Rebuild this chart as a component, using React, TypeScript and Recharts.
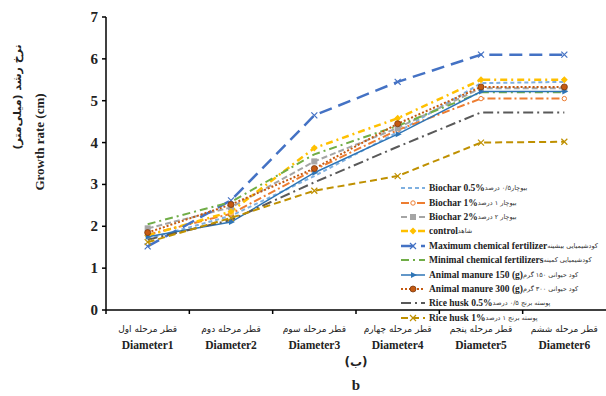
import React from 'react';
import { LineChart, Line, XAxis, YAxis, Legend, Label } from 'recharts';

const categories = ['Diameter1', 'Diameter2', 'Diameter3', 'Diameter4', 'Diameter5', 'Diameter6'];
const categoriesFa = ['قطر مرحله اول', 'قطر مرحله دوم', 'قطر مرحله سوم', 'قطر مرحله چهارم', 'قطر مرحله پنجم', 'قطر مرحله ششم'];
const yTicks = [0, 1, 2, 3, 4, 5, 6, 7];

const biochar05 = [1.7, 2.25, 3.2, 4.25, 5.42, 5.45];
const biochar1 = [1.8, 2.3, 3.35, 4.3, 5.05, 5.05];
const biochar2 = [1.95, 2.45, 3.55, 4.35, 5.3, 5.3];
const control = [1.78, 2.35, 3.87, 4.58, 5.5, 5.5];
const maxChem = [1.52, 2.62, 4.65, 5.45, 6.1, 6.1];
const minChem = [2.05, 2.58, 3.72, 4.4, 5.2, 5.2];
const manure150 = [1.75, 2.1, 3.28, 4.2, 5.22, 5.22];
const manure300 = [1.85, 2.52, 3.38, 4.45, 5.33, 5.33];
const riceHusk05 = [1.68, 2.15, 3.05, 3.9, 4.72, 4.72];
const riceHusk1 = [1.62, 2.2, 2.85, 3.2, 4.0, 4.02];

const seriesNames = [
  'Biochar 0.5%', 'Biochar 1%', 'Biochar 2%', 'control', 'Maximum chemical fertilizer',
  'Minimal chemical fertilizers', 'Animal manure 150 (g)', 'Animal manure 300 (g)', 'Rice husk 0.5%', 'Rice husk 1%',
];
const seriesNamesFa = [
  'بیوچار۰/۵ درصد', 'بیوچار ۱ درصد', 'بیوچار ۲ درصد', 'شاهد', 'کودشیمیایی بیشینه',
  'کودشیمیایی کمینه', 'کود حیوانی ۱۵۰ گرم', 'کود حیوانی ۳۰۰ گرم', 'پوسته برنج ۰/۵ درصد', 'پوسته برنج ۱ درصد',
];
const seriesValues = [biochar05, biochar1, biochar2, control, maxChem, minChem, manure150, manure300, riceHusk05, riceHusk1];

const styles = [
  { key: 's0', color: '#7FB0E0', dash: '4 3', width: 2, marker: 'none' },
  { key: 's1', color: '#ED7D31', dash: '8 3 2 3', width: 2, marker: 'ocircle' },
  { key: 's2', color: '#A5A5A5', dash: '6 3', width: 2, marker: 'square' },
  { key: 's3', color: '#FFC000', dash: '7 4 2 4', width: 2.5, marker: 'diamond' },
  { key: 's4', color: '#4472C4', dash: '13 7', width: 2.5, marker: 'x' },
  { key: 's5', color: '#70AD47', dash: '8 4 2 4', width: 2, marker: 'none' },
  { key: 's6', color: '#2E75B6', dash: '', width: 1.5, marker: 'arrow' },
  { key: 's7', color: '#C55A11', dash: '2 2', width: 2, marker: 'circle' },
  { key: 's8', color: '#595959', dash: '10 4 2 4', width: 2, marker: 'none' },
  { key: 's9', color: '#BF9000', dash: '7 4', width: 2, marker: 'x' },
];

const data = categories.map((c, i) => {
  const row: any = { name: c, fa: categoriesFa[i] };
  styles.forEach((s, k) => { row[s.key] = seriesValues[k][i]; });
  return row;
});

const SERIF = '"Liberation Serif", "DejaVu Serif", serif';
const FA = '"DejaVu Sans", "Noto Sans", sans-serif';

function drawMarker(marker: string, color: string, cx: number, cy: number, key?: any) {
  switch (marker) {
    case 'circle':
      return <circle key={key} cx={cx} cy={cy} r={3} fill={color} stroke="#7a3a10" strokeWidth={0.8} />;
    case 'ocircle':
      return <circle key={key} cx={cx} cy={cy} r={2.2} fill="#fff" stroke={color} strokeWidth={1} />;
    case 'square':
      return <rect key={key} x={cx - 2.5} y={cy - 2.5} width={5} height={5} fill={color} stroke={color} />;
    case 'diamond':
      return <path key={key} d={`M${cx},${cy - 3.5}L${cx + 3.5},${cy}L${cx},${cy + 3.5}L${cx - 3.5},${cy}Z`} fill={color} />;
    case 'x':
      return <path key={key} d={`M${cx - 3},${cy - 3}L${cx + 3},${cy + 3}M${cx - 3},${cy + 3}L${cx + 3},${cy - 3}`} stroke={color} strokeWidth={1.2} fill="none" />;
    case 'arrow':
      return <path key={key} d={`M${cx + 4},${cy}L${cx - 2},${cy - 3}L${cx - 2},${cy + 3}Z`} fill={color} />;
    default:
      return <g key={key} />;
  }
}

const makeDot = (marker: string, color: string) => (props: any) => {
  const { cx, cy, index } = props;
  if (cx == null || cy == null) return <g key={`d${index}`} />;
  return drawMarker(marker, color, cx, cy, `d${index}`);
};

const XTick = (props: any) => {
  const { x, payload, index } = props;
  const half = 500 / 12;
  return (
    <g>
      <line x1={x - half} y1={310} x2={x - half} y2={314} stroke="#000" strokeWidth={1.5} />
      <text x={x} y={332} textAnchor="middle" fontFamily={FA} fontSize={9} fill="#222">{categoriesFa[index]}</text>
      <text x={x} y={349} textAnchor="middle" fontFamily={SERIF} fontWeight="bold" fontSize={11.5} fill="#222">{payload.value}</text>
    </g>
  );
};

const YTick = (props: any) => {
  const { x, y, payload } = props;
  return (
    <text x={x - 2} y={y + 5} textAnchor="end" fontFamily={SERIF} fontWeight="bold" fontSize={15} fill="#222">{payload.value}</text>
  );
};

const YLabel = () => (
  <g>
    <text transform="translate(21,97) rotate(-90)" textAnchor="middle" fontFamily={FA} fontWeight="bold" fontSize={11} fill="#222">نرخ رشد (میلی‌متر)</text>
    <text transform="translate(44,142) rotate(-90)" textAnchor="middle" fontFamily={SERIF} fontWeight="bold" fontSize={13} fill="#222">Growth rate (cm)</text>
  </g>
);

const XLabel = (props: any) => {
  const vb = props.viewBox || { x: 106, width: 500 };
  const cx = vb.x + vb.width / 2;
  return (
    <g>
      <text x={cx} y={366} textAnchor="middle" fontFamily={FA} fontWeight="bold" fontSize={12} fill="#222">(ب)</text>
      <text x={cx} y={390} textAnchor="middle" fontFamily={SERIF} fontWeight="bold" fontSize={15} fill="#222">b</text>
    </g>
  );
};

const LegendBox = () => (
  <div style={{ width: 210 }}>
    {styles.map((s, i) => (
      <div key={s.key} style={{ height: 14.4, display: 'flex', alignItems: 'center', whiteSpace: 'nowrap' }}>
        <svg width={26} height={12} style={{ flex: 'none' }}>
          <line x1={1} y1={6} x2={25} y2={6} stroke={s.color} strokeWidth={s.width} strokeDasharray={s.dash} />
          {drawMarker(s.marker, s.color, 13, 6)}
        </svg>
        <span style={{ fontFamily: SERIF, fontWeight: 'bold', fontSize: 9.5, color: '#222', marginLeft: 3 }}>{seriesNames[i]}</span>
        <span style={{ fontFamily: FA, fontSize: 6.5, color: '#333', direction: 'rtl' }}>{seriesNamesFa[i]}</span>
      </div>
    ))}
  </div>
);

export default function App() {
  return (
    <div style={{ position: 'absolute', left: 0, top: 0, background: '#fff' }}>
      <LineChart width={606} height={396} data={data} margin={{ top: 17, right: 0, left: 66, bottom: 46 }}>
        <XAxis
          dataKey="name"
          height={40}
          padding={{ left: 500 / 12, right: 500 / 12 }}
          axisLine={{ stroke: '#000', strokeWidth: 1.5 }}
          tickLine={false}
          tick={<XTick />}
          interval={0}
        >
          <Label content={<XLabel />} />
        </XAxis>
        <YAxis
          width={40}
          domain={[0, 7]}
          ticks={yTicks}
          interval={0}
          axisLine={{ stroke: '#000', strokeWidth: 1.5 }}
          tickLine={{ stroke: '#000', strokeWidth: 1.5 }}
          tickSize={4}
          tick={<YTick />}
        >
          <Label content={<YLabel />} />
        </YAxis>
        <Legend
          layout="vertical"
          align="center"
          verticalAlign="middle"
          content={<LegendBox />}
          wrapperStyle={{ left: 400, top: 181, width: 210 }}
        />
        {styles.map((s, i) => (
          <Line
            key={s.key}
            dataKey={s.key}
            name={seriesNames[i]}
            stroke={s.color}
            strokeWidth={s.width}
            strokeDasharray={s.dash || undefined}
            dot={makeDot(s.marker, s.color)}
            activeDot={false}
            isAnimationActive={false}
          />
        ))}
      </LineChart>
    </div>
  );
}
